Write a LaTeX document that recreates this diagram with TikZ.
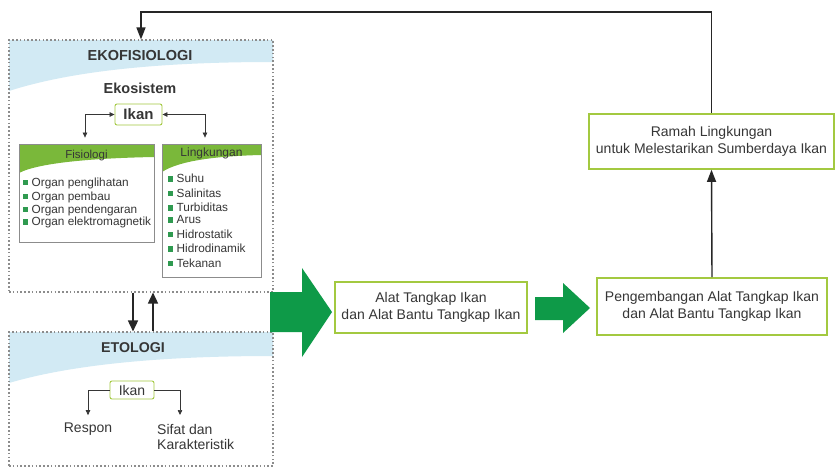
\documentclass[tikz,border=0pt]{standalone}
\usepackage{fontspec}
\setmainfont{Liberation Sans}
\usetikzlibrary{arrows.meta,calc}
\definecolor{txt}{HTML}{363636}
\definecolor{bandblue}{HTML}{D2EAF4}
\definecolor{hdrgreen}{HTML}{7AB83A}
\definecolor{boxgreen}{HTML}{A3C940}
\definecolor{arrgreen}{HTML}{0E9A48}
\definecolor{bulgreen}{HTML}{2F9A50}
\definecolor{dotgray}{HTML}{8C8C8C}
\newcommand{\fsz}[2]{\fontsize{#1}{#2}\selectfont}
\newcommand{\bul}{{\color{bulgreen}\raisebox{0.6pt}{\rule{5.5pt}{5.5pt}}}\hspace{3.5pt}}
\begin{document}
\begin{tikzpicture}[x=1pt,y=-1pt,
  every node/.style={text=txt, inner sep=0pt},
  dotbox/.style={draw=dotgray, line width=1.1pt, dash pattern=on 1.6pt off 2.2pt, minimum width=264pt},
  gbox/.style={draw=boxgreen, line width=1.6pt, align=center, font=\fsz{14}{16.5}, fill=white},
  listbox/.style={draw=black!45, line width=0.8pt},
  ibox/.style={draw=boxgreen, line width=0.9pt, rounded corners=2pt},
  item/.style={anchor=base west, font=\fsz{11.8}{14}},
  sarr/.style={draw=txt, line width=0.7pt, {Triangle[length=5pt,width=4.5pt]}-{Triangle[length=5pt,width=4.5pt]}},
  sarrone/.style={draw=txt, line width=0.7pt, -{Triangle[length=5pt,width=4.5pt]}},
  barr/.style={draw=black!85, line width=1.6pt, -{Triangle[length=11pt,width=10pt]}},
  barrtwo/.style={draw=black!85, line width=1.4pt, -{Triangle[length=12pt,width=9pt]}},
  hdr/.style={font=\bfseries\fsz{14.5}{17}, anchor=base}
]
\useasboundingbox[fill=white] (0,0) rectangle (836,469);

% bands
\fill[bandblue] (9,40) -- (273,40) -- (273,62) .. controls (180,62) and (80,68) .. (9,91) -- cycle;
\fill[bandblue] (9,332) -- (273,332) -- (273,356) .. controls (180,356) and (80,362) .. (9,383) -- cycle;

\node[dotbox, minimum height=252pt] (eko) at (141,166) {};
\node[dotbox, minimum height=134pt] (eto) at (141,399) {};

\node[hdr] (ekot) at (140,60.5) {EKOFISIOLOGI};
\node[hdr] (ekos) at (140,93) {Ekosistem};
\node[ibox, font=\bfseries\fsz{15}{17}, minimum width=47pt, minimum height=21pt] (ikan) at (138.5,114.5) {Ikan};

% list boxes
\fill[hdrgreen] (19,144) -- (154,144) -- (154,157) .. controls (100,158) and (40,162) .. (19,173) -- cycle;
\fill[hdrgreen] (162,144) -- (261,144) -- (261,155) .. controls (220,156) and (180,160) .. (162,172) -- cycle;
\node[listbox, minimum width=135pt, minimum height=98pt] (fis) at (86.5,193) {};
\node[listbox, minimum width=99pt, minimum height=133pt] (ling) at (211.5,210.5) {};
\node[font=\fsz{11.5}{14}, anchor=base] (fist) at (86.5,158) {Fisiologi};
\node[font=\fsz{12}{14}, anchor=base] (lingt) at (211.5,156) {Lingkungan};

\node[item] (f1) at (22.5,186) {\bul Organ penglihatan};
\node[item] (f2) at (22.5,200) {\bul Organ pembau};
\node[item] (f3) at (22.5,213) {\bul Organ pendengaran};
\node[item] (f4) at (22.5,225.5) {\bul Organ elektromagnetik};

\node[item] (l1) at (167.5,182.5) {\bul Suhu};
\node[item] (l2) at (167.5,197) {\bul Salinitas};
\node[item] (l3) at (167.5,211.5) {\bul Turbiditas};
\node[item] (l4) at (167.5,223.5) {\bul Arus};
\node[item] (l5) at (167.5,238) {\bul Hidrostatik};
\node[item] (l6) at (167.5,252.5) {\bul Hidrodinamik};
\node[item] (l7) at (167.5,267) {\bul Tekanan};

\draw[sarr] (ikan.west) -| ([shift={(-1.5pt,6pt)}]fis.north);
\draw[sarr] (ikan.east) -| ([shift={(-6.5pt,6pt)}]ling.north);

% between boxes
\draw[barr] ([xshift=-8pt]eko.south) -- ([xshift=-8pt]eto.north);
\draw[barr] ([xshift=12pt]eto.north) -- ([xshift=12pt]eko.south);

% etologi
\node[hdr, font=\bfseries\fsz{14.2}{17}] (etot) at (133,352) {ETOLOGI};
\node[ibox, font=\fsz{14}{16}, minimum width=44pt, minimum height=18pt] (ikan2) at (132,390) {Ikan};
\node[font=\fsz{14}{16}, anchor=base] (respon) at (88,432) {Respon};
\node[font=\fsz{14}{15.5}, anchor=west, align=left] (sifat) at (157,437) {Sifat dan\\Karakteristik};
\coordinate (sifA) at (180,415);
\draw[sarrone] (ikan2.west) -| ([yshift=7pt]respon.north);
\draw[sarrone] (ikan2.east) -| (sifA);

% green block arrows
\fill[arrgreen] (270,292) -- (302,292) -- (302,268) -- (332,312) -- (302,357) -- (302,332) -- (270,332) -- cycle;
\fill[arrgreen] (535,297) -- (563,297) -- (563,283) -- (590,308) -- (563,333) -- (563,320) -- (535,320) -- cycle;

% right boxes
\node[gbox, minimum width=192pt, minimum height=51pt] (alat) at (431,307.5) {Alat Tangkap Ikan\\dan Alat Bantu Tangkap Ikan};
\node[gbox, minimum width=230pt, minimum height=57pt] (peng) at (712,306.5) {Pengembangan Alat Tangkap Ikan\\dan Alat Bantu Tangkap Ikan};
\node[gbox, minimum width=245pt, minimum height=55pt] (ramah) at (711.5,141.5) {Ramah Lingkungan\\untuk Melestarikan Sumberdaya Ikan};

\draw[barrtwo] (peng.north) -- (ramah.south);
\coordinate (tl) at (141,12);
\draw[barrtwo] (ramah.north) |- (tl) -- (eko.north);
\end{tikzpicture}
\end{document}
